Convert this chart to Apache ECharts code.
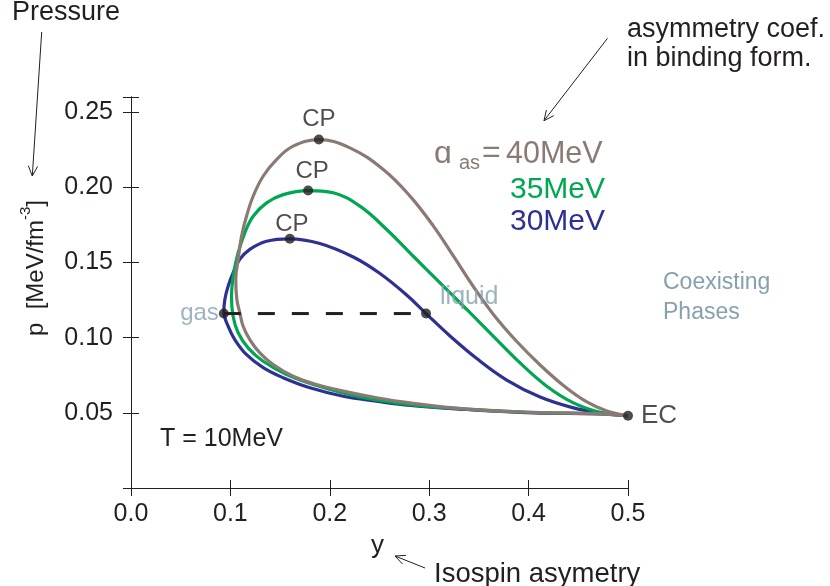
<!DOCTYPE html>
<html>
<head>
<meta charset="utf-8">
<script src="https://cdn.jsdelivr.net/npm/echarts@6/dist/echarts.min.js"></script>
<style>
html,body{margin:0;padding:0;background:#fff;}
#c{width:830px;height:586px;}
</style>
</head>
<body>
<div id="c"></div>
<script>
// Coexistence curves (y = isospin asymmetry, p = pressure), path: EC -> lower branch -> CP -> upper branch -> EC
const curve30 = [[0.5,0.048],[0.472,0.0493],[0.405,0.0500],[0.338,0.0522],[0.281,0.0549],[0.247,0.0577],[0.2135,0.061],[0.180,0.0666],[0.153,0.0733],[0.133,0.080],[0.116,0.0888],[0.1044,0.0987],[0.0977,0.1076],[0.0934,0.117],[0.0944,0.1253],[0.0977,0.1342],[0.1027,0.1431],[0.1094,0.152],[0.1195,0.1587],[0.1364,0.1641],[0.1598,0.1657],[0.190,0.1626],[0.2236,0.1536],[0.2505,0.1426],[0.2773,0.1283],[0.2968,0.1160],[0.3209,0.1011],[0.3478,0.0861],[0.378,0.0718],[0.4116,0.0605],[0.4451,0.0533],[0.472,0.0500],[0.5,0.048]];
const curve35 = [[0.5,0.048],[0.472,0.0495],[0.405,0.0502],[0.338,0.0524],[0.2807,0.0555],[0.2303,0.0606],[0.1867,0.0682],[0.1565,0.0755],[0.1329,0.0843],[0.1178,0.0932],[0.1078,0.1032],[0.1027,0.1142],[0.1011,0.1275],[0.1034,0.1431],[0.1078,0.1564],[0.1145,0.1697],[0.1229,0.1807],[0.1364,0.1896],[0.1531,0.1951],[0.1782,0.1978],[0.2034,0.1963],[0.2303,0.1874],[0.2572,0.1719],[0.284,0.1541],[0.3109,0.1364],[0.3378,0.1187],[0.3646,0.1009],[0.3914,0.0832],[0.4183,0.0677],[0.4451,0.0566],[0.472,0.0504],[0.5,0.048]];
const curve40 = [[0.5,0.048],[0.472,0.0493],[0.405,0.0503],[0.338,0.0525],[0.2807,0.0566],[0.2471,0.060],[0.2135,0.0644],[0.1867,0.0688],[0.1631,0.0743],[0.143,0.0821],[0.1296,0.0899],[0.1195,0.0987],[0.1128,0.1076],[0.1095,0.1165],[0.1065,0.1253],[0.1054,0.1386],[0.1078,0.152],[0.1112,0.1674],[0.1162,0.1807],[0.1229,0.194],[0.1329,0.2073],[0.1464,0.2184],[0.1631,0.2273],[0.189,0.2317],[0.2202,0.2262],[0.2538,0.2118],[0.2807,0.1941],[0.3041,0.1743],[0.3243,0.1543],[0.3444,0.134],[0.3646,0.1154],[0.3881,0.0974],[0.4116,0.0818],[0.435,0.0682],[0.4586,0.0572],[0.4787,0.0512],[0.5,0.048]];
const criticalPoints = [[0.189,0.2317],[0.1782,0.1978],[0.1598,0.1657]];
const endPoint = [0.5,0.048];
const gasPoint = [0.0934,0.116];
const liquidPoint = [0.2968,0.116];
const seriesNames = ['30MeV','35MeV','40MeV'];

const FONT = '"Liberation Sans", Arial, Helvetica, sans-serif';
const INK = '#231f20';
const C30 = '#2e3192', C35 = '#00a651', C40 = '#8b7a73', GREY = '#86a0ae';

const chart = echarts.init(document.getElementById('c'), null, {renderer:'canvas'});

function lineSeries(name, data, color){
  return {name, type:'line', data, smooth:0.4, showSymbol:false, symbol:'none',
    lineStyle:{color, width:3.2}, z:2, animation:false};
}

const cpOffsets = [[0,0],[4,1],[2,6]];

function arrow(x1,y1,x2,y2){
  const dx=x2-x1, dy=y2-y1, L=Math.hypot(dx,dy), bx=-dx/L, by=-dy/L, a=25*Math.PI/180, s=11;
  const p1=[x2+s*(bx*Math.cos(a)-by*Math.sin(a)), y2+s*(bx*Math.sin(a)+by*Math.cos(a))];
  const p2=[x2+s*(bx*Math.cos(-a)-by*Math.sin(-a)), y2+s*(bx*Math.sin(-a)+by*Math.cos(-a))];
  return [
    {type:'line', shape:{x1,y1,x2,y2}, style:{stroke:INK, lineWidth:1}},
    {type:'polyline', shape:{points:[p1,[x2,y2],p2]}, style:{stroke:INK, lineWidth:1, fill:null}}
  ];
}
function txt(x,y,text,size,color,align){
  return {type:'text', x, y, style:{text, font:size+'px '+FONT, fill:color||INK, align:align||'left', verticalAlign:'middle'}};
}

const option = {
  backgroundColor:'#fff',
  animation:false,
  grid:{left:131, right:202, top:97, bottom:98, containLabel:false},
  xAxis:[
    {type:'value', min:0, max:0.5, interval:0.1, position:'bottom',
     axisLine:{show:true, lineStyle:{color:INK, width:1}},
     axisTick:{show:true, inside:true, length:8, lineStyle:{color:INK}},
     splitLine:{show:false},
     axisLabel:{margin:14, fontSize:25, fontFamily:FONT, color:INK, formatter:v=>v.toFixed(1)}},
    {type:'value', min:0, max:0.5, interval:0.1, position:'top',
     axisLine:{show:true, lineStyle:{color:INK, width:1}},
     axisTick:{show:true, inside:true, length:8, lineStyle:{color:INK}},
     splitLine:{show:false}, axisLabel:{show:false}}
  ],
  yAxis:[
    {type:'value', min:0, max:0.26, interval:0.05, position:'left',
     axisLine:{show:true, lineStyle:{color:INK, width:1}},
     axisTick:{show:true, inside:true, length:8, lineStyle:{color:INK}},
     splitLine:{show:false},
     axisLabel:{margin:18, fontSize:25, fontFamily:FONT, color:INK,
       formatter:v=>(v<0.01||v>0.255)?'':v.toFixed(2)}},
    {type:'value', min:0, max:0.26, interval:0.05, position:'right',
     axisLine:{show:true, lineStyle:{color:INK, width:1}},
     axisTick:{show:true, inside:true, length:8, lineStyle:{color:INK}},
     splitLine:{show:false}, axisLabel:{show:false}}
  ],
  series:[
    lineSeries(seriesNames[0], curve30, C30),
    lineSeries(seriesNames[1], curve35, C35),
    lineSeries(seriesNames[2], curve40, C40),
    {type:'line', data:[gasPoint, liquidPoint], symbol:'none', showSymbol:false,
     lineStyle:{color:INK, width:3, type:[17,17]}, z:3, animation:false},
    {type:'scatter', symbolSize:10, itemStyle:{color:INK}, z:5, animation:false,
     data:criticalPoints.map((p,i)=>({value:p, label:{offset:cpOffsets[i]}})),
     label:{show:true, position:'top', distance:3, formatter:'CP', fontSize:24, fontFamily:FONT, color:INK}},
    {type:'scatter', symbolSize:10, itemStyle:{color:INK}, z:5, animation:false,
     data:[endPoint],
     label:{show:true, position:'right', distance:8, formatter:'EC', fontSize:26, fontFamily:FONT, color:INK}},
    {type:'scatter', symbolSize:10, itemStyle:{color:INK}, z:5, animation:false,
     data:[gasPoint],
     label:{show:true, position:'left', distance:0, formatter:'gas', fontSize:24, fontFamily:FONT, color:GREY}},
    {type:'scatter', symbolSize:10, itemStyle:{color:INK}, z:5, animation:false,
     data:[liquidPoint],
     label:{show:true, position:'right', distance:9, offset:[0,-16], formatter:'liquid', fontSize:25, fontFamily:FONT, color:GREY}}
  ],
  graphic:[
    txt(12,13,'Pressure',27),
    ...arrow(41.7,32,32.3,176),
    {type:'text', x:33, y:268, rotation:Math.PI/2,
     style:{text:'{n|p  [MeV/fm}{s|-3}{n|]}', align:'center', verticalAlign:'middle', fill:INK,
       rich:{n:{font:'24px '+FONT, fill:INK, lineHeight:30, verticalAlign:'bottom'},
             s:{font:'15px '+FONT, fill:INK, lineHeight:30, verticalAlign:'top'}}}},
    txt(627,30,'asymmetry coef.',27),
    txt(627,59,'in binding form.',27),
    ...arrow(607.5,38.3,544,120.7),
    txt(434,154.6,'ɑ',32,C40),
    txt(459,163,'as',20,C40),
    txt(482,153,'=',32,C40),
    txt(506,154.6,'40MeV',30.5,C40),
    txt(605,189.6,'35MeV',30,C35,'right'),
    txt(605,221.6,'30MeV',30,C30,'right'),
    txt(663,283,'Coexisting',23,GREY),
    txt(663,313,'Phases',23,GREY),
    txt(160,439,'T = 10MeV',25),
    txt(371,546,'y',26),
    ...arrow(425,568,395,556),
    txt(434,574,'Isospin asymetry',27.5)
  ]
};
chart.setOption(option);
</script>
</body>
</html>
